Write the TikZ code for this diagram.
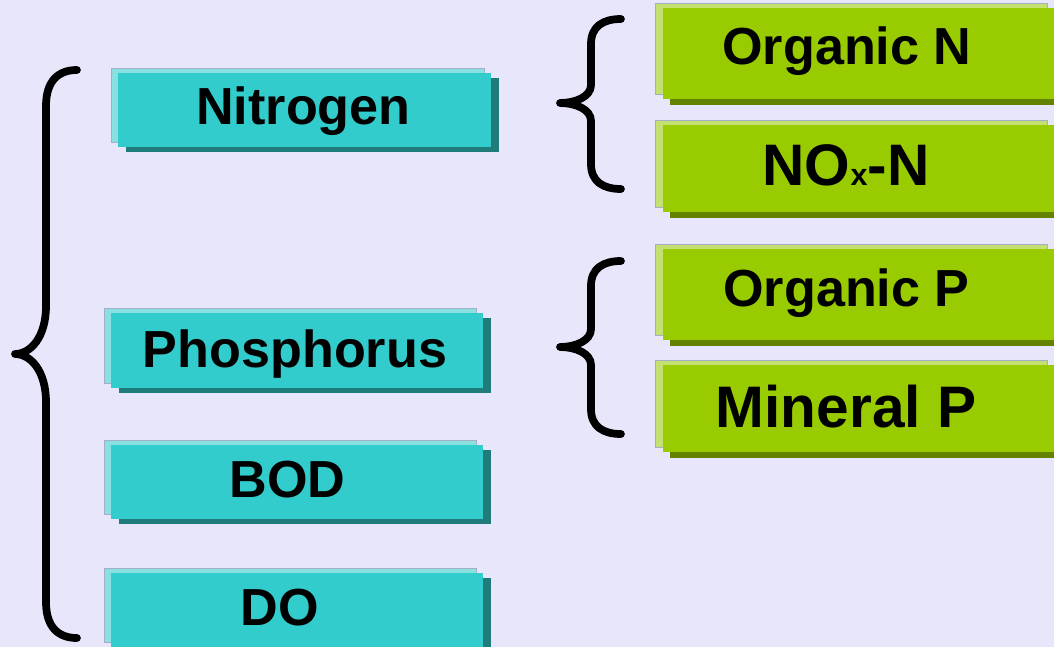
\documentclass[tikz,border=0pt]{standalone}
\usepackage{fontspec}
\setmainfont{Liberation Sans}
\usetikzlibrary{shadows}

\definecolor{bg}{HTML}{E8E6FB}
\definecolor{tealmain}{HTML}{33CCCC}
\definecolor{teallight}{HTML}{88E0E0}
\definecolor{tealdark}{HTML}{207B7B}
\definecolor{greenmain}{HTML}{99CC00}
\definecolor{greenlight}{HTML}{C4E070}
\definecolor{greendark}{HTML}{628200}
\definecolor{edgecol}{HTML}{A4AEC4}

\tikzset{
  box/.style={rectangle, inner sep=0pt, outer sep=0pt},
  tealbox/.style={box, fill=tealmain,
    general shadow={fill=teallight, draw=edgecol, line width=0.5pt,
                    shadow xshift=-0.21cm, shadow yshift=0.15cm},
    general shadow={fill=tealdark, shadow xshift=0.23cm, shadow yshift=-0.16cm}},
  greenbox/.style={box, fill=greenmain, minimum width=11.76cm,
    general shadow={fill=greenlight, draw=edgecol, line width=0.5pt,
                    shadow xshift=-0.24cm, shadow yshift=0.14cm},
    general shadow={fill=greendark, shadow xshift=0.21cm, shadow yshift=-0.17cm}},
  lbl/.style={anchor=base, inner sep=0pt, font=\bfseries\fontsize{44.5}{48}\selectfont},
  biglbl/.style={lbl, font=\bfseries\fontsize{50}{54}\selectfont},
  brace/.style={line width=6.6pt, line cap=round, line join=round, black}
}

% curly brace: x of ends, spine, tip; y of top, tip, bottom; end bend, tip bend
\newcommand\curlybrace[8]{%
  \draw[brace] (#1,#4) .. controls ({#2+0.4*(#1-#2)},#4) and (#2,{#4+0.3*#7}) .. (#2,{#4+#7})
    -- (#2,{#5-#8}) .. controls (#2,{#5-0.35*#8}) and ({#3+0.5*(#2-#3)},#5) .. (#3,#5)
    .. controls ({#3+0.5*(#2-#3)},#5) and (#2,{#5+0.35*#8}) .. (#2,{#5+#8})
    -- (#2,{#6-#7}) .. controls (#2,{#6-0.3*#7}) and ({#2+0.4*(#1-#2)},#6) .. (#1,#6);}

\begin{document}
\begin{tikzpicture}[x=0.03cm, y=-0.03cm]
  \useasboundingbox (0,0) rectangle (1054,647);
  \fill[bg] (0,0) rectangle (1054,647);

  % left column
  \node[tealbox, minimum width=11.19cm, minimum height=2.22cm] (nit) at (304.5,110) {};
  \node[tealbox, minimum width=11.16cm, minimum height=2.25cm] (pho) at (297,350.5) {};
  \node[tealbox, minimum width=11.16cm, minimum height=2.22cm] (bod) at (297,482) {};
  \node[tealbox, minimum width=11.16cm, minimum height=2.22cm] (do) at (297,610) {};

  \node[lbl] (nitt) at (303.5,125) {Nitrogen};
  \node[lbl] (phot) at (295,367) {Phosphorus};
  \node[lbl] (bodt) at (287.5,497) {BOD};
  \node[lbl] (dot) at (279.5,625) {DO};

  % right column
  \node[greenbox, minimum height=2.73cm] (orgn) at (859,53.5) {};
  \node[greenbox, minimum height=2.61cm] (nox) at (859,168.5) {};
  \node[greenbox, minimum height=2.73cm] (orgp) at (859,294.5) {};
  \node[greenbox, minimum height=2.61cm] (minp) at (859,408.5) {};

  \node[lbl] (orgnt) at (847,65) {Organic N};
  \node[biglbl] (noxt) at (846,186) {NO{\fontsize{26}{28}\selectfont x}-N};
  \node[lbl] (orgpt) at (846.5,306) {Organic P};
  \node[biglbl] (minpt) at (846,427) {Mineral P};

  % braces
  \curlybrace{77}{46}{15}{70}{354}{638}{36}{48}
  \curlybrace{621}{591}{560}{19}{103}{189}{25}{18}
  \curlybrace{621}{591}{560}{261}{347}{434}{25}{18}
\end{tikzpicture}
\end{document}
